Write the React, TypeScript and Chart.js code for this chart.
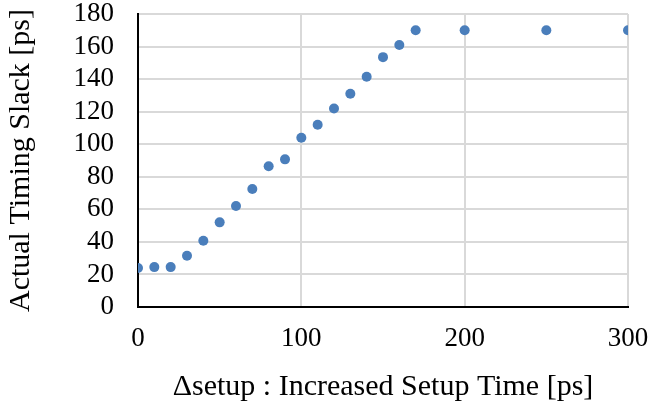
import React, { useEffect, useRef } from "react";
import { Chart, registerables } from "chart.js";

Chart.register(...registerables);

const xValues = [0, 10, 20, 30, 40, 50, 60, 70, 80, 90, 100, 110, 120, 130, 140, 150, 160, 170, 200, 250, 300];
const yValues = [24, 24.5, 24.5, 31.5, 40.7, 52, 62, 72.5, 86.5, 90.7, 104, 112, 122, 131, 141.5, 153.5, 161, 170, 170, 170, 170];
const xTitle = "\u0394setup : Increased Setup Time [ps]";
const yTitle = "Actual Timing Slack [ps]";

export default function App() {
  const ref = useRef<HTMLCanvasElement | null>(null);
  useEffect(() => {
    document.body.style.margin = "0";
    const ctx = ref.current!;
    const font = "'Liberation Serif', 'Times New Roman', serif";
    const chart = new Chart(ctx, {
      type: "scatter",
      data: {
        datasets: [
          {
            data: xValues.map((x, i) => ({ x, y: yValues[i] })),
            backgroundColor: "#4a7ebb",
            borderColor: "#4a7ebb",
            pointRadius: 5,
            pointHoverRadius: 5,
            borderWidth: 0,
          },
        ],
      },
      options: {
        responsive: false,
        animation: false,
        layout: { padding: { left: 0, right: 20, top: 14, bottom: 0 } },
        plugins: { legend: { display: false }, tooltip: { enabled: false } },
        scales: {
          x: {
            type: "linear",
            min: 0,
            max: 300,
            ticks: { stepSize: 100, autoSkip: false, maxRotation: 0, color: "#000", font: { family: font, size: 27 }, padding: 16 },
            grid: { color: "#d9d9d9", lineWidth: 2, drawTicks: false },
            border: { color: "#000", width: 2 },
            title: { display: true, text: xTitle, color: "#000", font: { family: font, size: 30 }, padding: { top: 0, bottom: 2 } },
            afterFit: (s: any) => { s.height = 100; s.paddingLeft = 0; s.paddingRight = 0; },
          },
          y: {
            min: 0,
            max: 180,
            ticks: { stepSize: 20, autoSkip: false, color: "#000", font: { family: font, size: 27 }, padding: 24 },
            grid: { color: "#d9d9d9", lineWidth: 2, drawTicks: false },
            border: { color: "#000", width: 2 },
            title: { display: true, text: yTitle, color: "#000", font: { family: font, size: 30 }, padding: { top: 3, bottom: 0 } },
            afterFit: (s: any) => { s.width = 138; s.paddingTop = 0; s.paddingBottom = 0; },
          },
        },
      },
    });
    return () => chart.destroy();
  }, []);
  return <canvas ref={ref} width={648} height={407} style={{ display: "block" }} />;
}
